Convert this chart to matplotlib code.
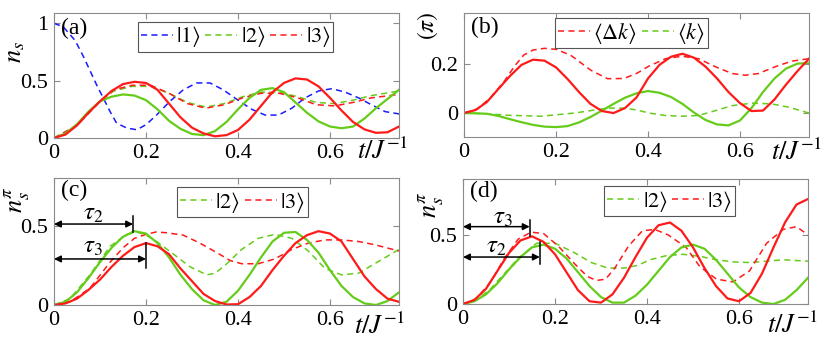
"""Population dynamics of the three states, four panels."""
# %%
# imports
import matplotlib
matplotlib.use("Agg")
import matplotlib.pyplot as plt

plt.rcParams["font.family"] = ["Liberation Serif", "DejaVu Serif"]
plt.rcParams["mathtext.fontset"] = "stix"

# %%
# data, t in units of 1/J
t_grid = [0, 0.025, 0.05, 0.075, 0.1, 0.125, 0.15, 0.175, 0.2, 0.225, 0.25, 0.275, 0.3, 0.325,
          0.35, 0.375, 0.4, 0.425, 0.45, 0.475, 0.5, 0.525, 0.55, 0.575, 0.6, 0.625, 0.65,
          0.675, 0.7, 0.725, 0.75]

# (a) n_s
t_a1 = [0, 0.02, 0.046, 0.064, 0.078, 0.093, 0.107, 0.122, 0.136, 0.158, 0.18, 0.2, 0.223, 0.252,
        0.281, 0.31, 0.339, 0.368, 0.4, 0.43, 0.459, 0.488, 0.517, 0.546, 0.575, 0.604, 0.633,
        0.662, 0.69, 0.72, 0.75]
n1_a = [1.0, 0.97, 0.85, 0.71, 0.59, 0.46, 0.35, 0.23, 0.13, 0.087, 0.072, 0.116, 0.2, 0.32,
        0.42, 0.48, 0.48, 0.42, 0.33, 0.25, 0.2, 0.2, 0.26, 0.35, 0.41, 0.43, 0.40,
        0.35, 0.29, 0.23, 0.21]
n3_a = [0, 0.03, 0.11, 0.22, 0.32, 0.41, 0.47, 0.49, 0.48, 0.42, 0.30, 0.18, 0.09, 0.04,
        0.015, 0.025, 0.07, 0.16, 0.28, 0.40, 0.48, 0.52, 0.51, 0.45, 0.35, 0.24, 0.14,
        0.075, 0.045, 0.05, 0.10]
n2_a = [0, 0.04, 0.12, 0.23, 0.32, 0.36, 0.38, 0.37, 0.33, 0.25, 0.15, 0.08, 0.035, 0.025,
        0.06, 0.14, 0.25, 0.35, 0.42, 0.435, 0.40, 0.31, 0.22, 0.145, 0.10, 0.085, 0.10,
        0.17, 0.26, 0.34, 0.42]
t_ad = [0, 0.05, 0.1, 0.13, 0.17, 0.21, 0.25, 0.29, 0.33, 0.37, 0.41, 0.45, 0.49, 0.53, 0.57,
        0.61, 0.65, 0.69, 0.75]
n3_a_dash = [0, 0.11, 0.32, 0.42, 0.46, 0.46, 0.39, 0.30, 0.26, 0.29, 0.35, 0.39, 0.39, 0.35,
             0.29, 0.28, 0.31, 0.35, 0.38]
n2_a_dash = [0, 0.11, 0.32, 0.41, 0.45, 0.45, 0.39, 0.31, 0.27, 0.30, 0.36, 0.40, 0.40, 0.36,
             0.31, 0.30, 0.33, 0.37, 0.41]

# (b) momenta in units of pi
dk_b = [0, 0.012, 0.045, 0.098, 0.15, 0.195, 0.216, 0.212, 0.185, 0.138, 0.085, 0.037, 0.008,
        0.0, 0.02, 0.063, 0.14, 0.195, 0.228, 0.24, 0.224, 0.188, 0.14, 0.085, 0.04, 0.008,
        0.01, 0.055, 0.115, 0.17, 0.22]
k_b = [0, -0.001, -0.003, -0.012, -0.025, -0.037, -0.048, -0.055, -0.057, -0.053, -0.038,
       -0.016, 0.01, 0.037, 0.062, 0.08, 0.089, 0.082, 0.065, 0.037, 0.002, -0.028, -0.046,
       -0.05, -0.03, 0.02, 0.085, 0.14, 0.18, 0.2, 0.203]
t_b_dkd = [0, 0.03, 0.059, 0.088, 0.11, 0.13, 0.15, 0.175, 0.2, 0.232, 0.276, 0.312, 0.348,
           0.377, 0.402, 0.438, 0.474, 0.51, 0.547, 0.583, 0.611, 0.64, 0.676, 0.712, 0.75]
dk_b_dash = [0, 0.017, 0.065, 0.13, 0.19, 0.235, 0.255, 0.262, 0.258, 0.234, 0.173, 0.139,
             0.14, 0.162, 0.19, 0.22, 0.23, 0.22, 0.187, 0.16, 0.153, 0.16, 0.187, 0.21, 0.22]
t_b_kd = [0, 0.05, 0.095, 0.167, 0.24, 0.312, 0.35, 0.377, 0.402, 0.438, 0.474, 0.51, 0.547,
          0.583, 0.626, 0.669, 0.705, 0.75]
k_b_dash = [0, -0.003, -0.009, -0.013, 0.0, 0.02, 0.02, 0.012, 0.0, -0.01, -0.013, -0.01, 0.01,
            0.03, 0.04, 0.037, 0.024, 0.0]

# (c) n_s^pi
n2_c = [0, 0.02, 0.08, 0.17, 0.27, 0.36, 0.43, 0.465, 0.45, 0.39, 0.30, 0.19, 0.10, 0.03,
        0.0, 0.02, 0.09, 0.19, 0.30, 0.40, 0.455, 0.46, 0.41, 0.33, 0.22, 0.12, 0.05,
        0.01, 0.0, 0.025, 0.08]
n3_c = [0, 0.01, 0.04, 0.095, 0.16, 0.24, 0.31, 0.365, 0.39, 0.37, 0.32, 0.23, 0.15, 0.07,
        0.025, 0.003, 0.005, 0.05, 0.12, 0.22, 0.31, 0.39, 0.44, 0.465, 0.45, 0.40, 0.29,
        0.18, 0.10, 0.04, 0.02]
t_c2d = [0, 0.035, 0.078, 0.122, 0.158, 0.18, 0.2, 0.223, 0.26, 0.296, 0.332, 0.35, 0.372,
         0.408, 0.444, 0.48, 0.517, 0.553, 0.589, 0.625, 0.662, 0.697, 0.75]
n2_c_dash = [0, 0.04, 0.19, 0.37, 0.445, 0.46, 0.44, 0.40, 0.32, 0.24, 0.19, 0.2, 0.25, 0.35,
             0.42, 0.445, 0.42, 0.34, 0.23, 0.19, 0.2, 0.26, 0.35]
t_c3d = [0, 0.035, 0.078, 0.122, 0.15, 0.175, 0.2, 0.222, 0.245, 0.281, 0.317, 0.354, 0.383,
         0.408, 0.444, 0.48, 0.517, 0.553, 0.589, 0.625, 0.662, 0.697, 0.75]
n3_c_dash = [0, 0.02, 0.105, 0.27, 0.36, 0.42, 0.445, 0.46, 0.455, 0.44, 0.39, 0.33, 0.28,
             0.26, 0.26, 0.29, 0.35, 0.39, 0.41, 0.41, 0.40, 0.38, 0.34]

# (d) n_s^pi
n3_d = [0, 0.03, 0.11, 0.24, 0.37, 0.46, 0.49, 0.45, 0.36, 0.23, 0.10, 0.02, 0.01, 0.07,
        0.19, 0.34, 0.48, 0.57, 0.59, 0.53, 0.41, 0.26, 0.13, 0.04, 0.02, 0.08, 0.22,
        0.41, 0.59, 0.72, 0.76]
n2_d = [0, 0.02, 0.07, 0.15, 0.25, 0.34, 0.41, 0.43, 0.40, 0.33, 0.23, 0.13, 0.05, 0.01,
        0.01, 0.06, 0.14, 0.24, 0.34, 0.41, 0.43, 0.40, 0.32, 0.22, 0.12, 0.05, 0.01,
        0.0, 0.03, 0.10, 0.19]
t_d3d = [0, 0.03, 0.06, 0.09, 0.12, 0.148, 0.175, 0.207, 0.243, 0.27, 0.29, 0.31, 0.33, 0.36,
         0.39, 0.417, 0.446, 0.485, 0.515, 0.551, 0.587, 0.623, 0.66, 0.696, 0.725, 0.75]
n3_d_dash = [0, 0.04, 0.16, 0.33, 0.47, 0.52, 0.51, 0.42, 0.29, 0.20, 0.17, 0.18, 0.26, 0.42,
             0.53, 0.54, 0.50, 0.41, 0.27, 0.18, 0.16, 0.24, 0.44, 0.54, 0.56, 0.50]
t_d2d = [0, 0.03, 0.06, 0.09, 0.12, 0.16, 0.2, 0.243, 0.279, 0.315, 0.35, 0.38, 0.406, 0.442,
         0.478, 0.515, 0.551, 0.587, 0.623, 0.66, 0.696, 0.75]
n2_d_dash = [0, 0.03, 0.11, 0.22, 0.33, 0.44, 0.44, 0.37, 0.30, 0.26, 0.26, 0.28, 0.32, 0.35,
             0.36, 0.345, 0.32, 0.305, 0.30, 0.31, 0.32, 0.31]

# tick labels
xticks = [0, 0.2, 0.4, 0.6]
xticklabels = ["0", "0.2", "0.4", "0.6"]

# %%
# styles
BLUE = "#1a1aff"
GREEN = "#66cc1a"
RED = "#ff1a1a"
LW_SOLID = 1.6
LW_DASH = 1.1
DASH = (0, (4, 2.8))
FRAME = "#8a8a8a"
FS = 16

fig = plt.figure(figsize=(8.3, 3.48), dpi=100)
W, H = 830, 348


def make_ax(left, top, right, bottom):
    # pixel box -> figure fraction
    ax = fig.add_axes([left / W, 1 - bottom / H, (right - left) / W, (bottom - top) / H])
    for sp in ax.spines.values():
        sp.set_color(FRAME)
        sp.set_linewidth(0.8)
    ax.tick_params(direction="in", length=4, width=0.8, color=FRAME, top=True, right=True,
                   labelsize=FS, pad=4)
    ax.set_xlim(0, 0.75)
    ax.set_xticks(xticks)
    ax.set_xticklabels(xticklabels)
    return ax


def add_legend(ax, x, y, ncol):
    leg = ax.legend(loc="upper left", bbox_to_anchor=(x, y), ncol=ncol, fontsize=16,
                    handlelength=1.45, handletextpad=0.15, columnspacing=0.2, borderpad=0.12,
                    borderaxespad=0, fancybox=False, framealpha=1)
    leg.get_frame().set_edgecolor("#555555")
    leg.get_frame().set_linewidth(0.8)


def fig_text(x, y, s, **kw):
    fig.text(x / W, 1 - y / H, s, ha="center", va="center", **kw)


# %%
# (a)
ax = make_ax(54, 13, 399, 138)
ax.plot(t_a1, n1_a, color=BLUE, lw=LW_DASH, ls=DASH, label=r"$|1\rangle$")
ax.plot(t_ad, n2_a_dash, color=GREEN, lw=LW_DASH, ls=DASH, label=r"$|2\rangle$")
ax.plot(t_ad, n3_a_dash, color=RED, lw=LW_DASH, ls=DASH, label=r"$|3\rangle$")
ax.plot(t_grid, n2_a, color=GREEN, lw=LW_SOLID)
ax.plot(t_grid, n3_a, color=RED, lw=LW_SOLID)
ax.set_ylim(0, 1.09)
ax.set_yticks([0, 0.5, 1])
ax.set_yticklabels(["0", "0.5", "1"])
ax.text(0.02, 0.88, "(a)", transform=ax.transAxes, fontsize=17, va="center")
add_legend(ax, 0.243, 0.93, 3)

# (b)
ax = make_ax(464, 13, 809, 137)
ax.plot(t_b_dkd, dk_b_dash, color=RED, lw=LW_DASH, ls=DASH, label=r"$\langle\Delta k\rangle$")
ax.plot(t_b_kd, k_b_dash, color=GREEN, lw=LW_DASH, ls=DASH, label=r"$\langle k\rangle$")
ax.plot(t_grid, k_b, color=GREEN, lw=LW_SOLID)
ax.plot(t_grid, dk_b, color=RED, lw=LW_SOLID)
ax.set_ylim(-0.097, 0.405)
ax.set_yticks([0, 0.2])
ax.set_yticklabels(["0", "0.2"])
ax.text(0.02, 0.88, "(b)", transform=ax.transAxes, fontsize=17, va="center")
add_legend(ax, 0.264, 0.96, 2)

# (c)
ax = make_ax(54, 178, 399, 305)
ax.plot(t_c2d, n2_c_dash, color=GREEN, lw=LW_DASH, ls=DASH, label=r"$|2\rangle$")
ax.plot(t_c3d, n3_c_dash, color=RED, lw=LW_DASH, ls=DASH, label=r"$|3\rangle$")
ax.plot(t_grid, n2_c, color=GREEN, lw=LW_SOLID)
ax.plot(t_grid, n3_c, color=RED, lw=LW_SOLID)
ax.set_ylim(0, 0.8)
ax.set_yticks([0, 0.5])
ax.set_yticklabels(["0", "0.5"])
ax.text(0.02, 0.905, "(c)", transform=ax.transAxes, fontsize=17, va="center")
add_legend(ax, 0.357, 0.93, 2)
# time markers
arrow = dict(arrowstyle="<|-|>", color="k", lw=1.1, mutation_scale=10, shrinkA=0, shrinkB=0)
ax.annotate("", xy=(0.172, 0.51), xytext=(0, 0.51), arrowprops=arrow)
ax.plot([0.172, 0.172], [0.46, 0.56], color="k", lw=1.1)
ax.text(0.085, 0.575, r"$\tau_2$", fontsize=18, ha="center", va="center")
ax.annotate("", xy=(0.2, 0.29), xytext=(0, 0.29), arrowprops=arrow)
ax.plot([0.2, 0.2], [0.23, 0.39], color="k", lw=1.1)
ax.text(0.085, 0.365, r"$\tau_3$", fontsize=18, ha="center", va="center")

# (d)
ax = make_ax(463, 179, 808, 304)
ax.plot(t_d2d, n2_d_dash, color=GREEN, lw=LW_DASH, ls=DASH, label=r"$|2\rangle$")
ax.plot(t_d3d, n3_d_dash, color=RED, lw=LW_DASH, ls=DASH, label=r"$|3\rangle$")
ax.plot(t_grid, n2_d, color=GREEN, lw=LW_SOLID)
ax.plot(t_grid, n3_d, color=RED, lw=LW_SOLID)
ax.set_ylim(0, 0.905)
ax.set_yticks([0, 0.5])
ax.set_yticklabels(["0", "0.5"])
ax.text(0.02, 0.9, "(d)", transform=ax.transAxes, fontsize=17, va="center")
add_legend(ax, 0.41, 0.944, 2)
ax.annotate("", xy=(0.145, 0.56), xytext=(0, 0.56), arrowprops=arrow)
ax.plot([0.145, 0.145], [0.49, 0.61], color="k", lw=1.1)
ax.text(0.087, 0.625, r"$\tau_3$", fontsize=18, ha="center", va="center")
ax.annotate("", xy=(0.167, 0.34), xytext=(0, 0.34), arrowprops=arrow)
ax.plot([0.167, 0.167], [0.29, 0.45], color="k", lw=1.1)
ax.text(0.072, 0.41, r"$\tau_2$", fontsize=18, ha="center", va="center")

# %%
# axis labels placed by hand like the original
fig_text(16, 52, r"$n_s$", fontsize=19, rotation=90)
fig_text(428, 26, r"$(\pi)$", fontsize=17, rotation=90)
fig_text(17, 200, r"$n_s^{\pi}$", fontsize=19, rotation=90)
fig_text(431, 205, r"$n_s^{\pi}$", fontsize=19, rotation=90)
for x, y in [(383, 151), (797, 152), (380, 326), (793, 325)]:
    fig_text(x, y, r"$t/J^{-1}$", fontsize=19)

fig.savefig("out.png", dpi=100)
